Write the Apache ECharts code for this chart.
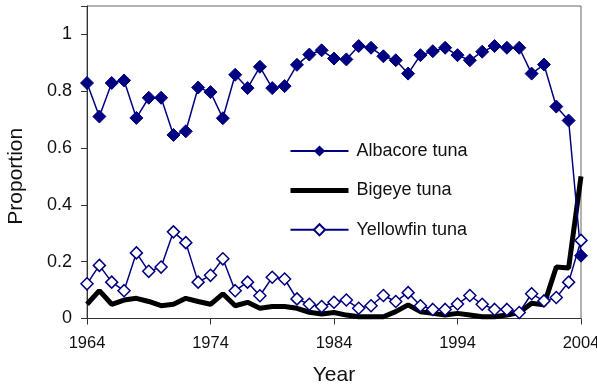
<!DOCTYPE html>
<html><head><meta charset="utf-8">
<script src="https://cdn.jsdelivr.net/npm/echarts@6/dist/echarts.min.js"></script>
<style>html,body{margin:0;padding:0;background:#fff}#c{width:597px;height:388px}</style>
</head><body><div id="c"></div>
<script>
var years = [];
for (var y = 1964; y <= 2004; y++) years.push(y);
var albacore = [0.829,0.711,0.829,0.838,0.706,0.777,0.777,0.646,0.659,0.813,0.797,0.705,0.858,0.811,0.886,0.811,0.818,0.893,0.929,0.944,
  0.915,0.912,0.959,0.953,0.923,0.909,0.862,0.927,0.941,0.953,0.927,0.909,0.939,0.959,0.953,0.953,0.862,0.894,0.746,0.697,0.221];
var bigeye = [0.05,0.098,0.05,0.065,0.071,0.06,0.045,0.05,0.071,0.06,0.05,0.087,0.045,0.057,0.036,0.042,0.042,0.036,0.022,0.016,
  0.021,0.012,0.006,0.006,0.006,0.024,0.048,0.024,0.018,0.012,0.018,0.012,0.006,0.006,0.012,0.021,0.054,0.048,0.181,0.178,0.5];
var yellowfin = [0.122,0.187,0.128,0.098,0.231,0.166,0.181,0.305,0.267,0.128,0.152,0.21,0.098,0.128,0.08,0.145,0.139,0.069,0.05,0.042,
  0.057,0.065,0.036,0.045,0.081,0.06,0.091,0.045,0.032,0.032,0.051,0.081,0.05,0.032,0.032,0.021,0.087,0.062,0.074,0.128,0.275];
var names = ['Albacore tuna','Bigeye tuna','Yellowfin tuna'];
function pairs(arr){ return years.map(function(yr,i){ return [yr, arr[i]]; }); }
var navy = '#000080';
var font = 'Liberation Sans, Arial, sans-serif';
var chart = echarts.init(document.getElementById('c'));
chart.setOption({
  animation: false,
  backgroundColor: '#fff',
  grid: {left: 87, right: 16, top: 6, bottom: 69.5, show: true, borderColor: '#666', borderWidth: 1,
         containLabel: false, outerBoundsMode: 'none'},
  legend: {
    orient: 'vertical', left: 288, top: 142, padding: 0, itemWidth: 58, itemHeight: 14, itemGap: 21.4,
    textStyle: {fontFamily: font, fontSize: 18, lineHeight: 14, color: '#111', padding: [0,0,0,3]},
    data: [
      {name: names[0]},
      {name: names[1], itemStyle: {opacity: 0}, lineStyle: {width: 5, color: '#000'}},
      {name: names[2]}
    ]
  },
  xAxis: {
    type: 'value', min: 1964, max: 2004, interval: 10,
    name: 'Year', nameLocation: 'middle', nameGap: 46,
    nameTextStyle: {fontFamily: font, fontSize: 21, color: '#111'},
    axisLine: {lineStyle: {color: '#333'}},
    axisTick: {show: true, length: 6, lineStyle: {color: '#333'}},
    axisLabel: {fontFamily: font, fontSize: 16.5, color: '#111', margin: 16, formatter: function(v){return String(v);}},
    splitLine: {show: false}
  },
  yAxis: {
    type: 'value', min: 0, max: 1.1, interval: 0.2,
    name: 'Proportion', nameLocation: 'middle', nameGap: 60,
    nameTextStyle: {fontFamily: font, fontSize: 21, color: '#111', padding: [0, 28, 0, 0]},
    axisLine: {show: true, lineStyle: {color: '#333'}},
    axisTick: {show: true, length: 6, lineStyle: {color: '#333'}},
    axisLabel: {fontFamily: font, fontSize: 18, color: '#111', margin: 15,
      formatter: function(v){ return v > 1.05 ? '' : String(Math.round(v*10)/10); }},
    splitLine: {show: false}
  },
  series: [
    {name: names[0], type: 'line', data: pairs(albacore), symbol: 'diamond', symbolSize: 13,
     lineStyle: {color: navy, width: 1.5}, itemStyle: {color: navy, borderColor: navy}, z: 3},
    {name: names[1], type: 'line', data: pairs(bigeye), showSymbol: false, symbol: 'none',
     lineStyle: {color: '#000', width: 5}, itemStyle: {color: '#000'}, z: 2},
    {name: names[2], type: 'line', data: pairs(yellowfin), symbol: 'diamond', symbolSize: 12,
     lineStyle: {color: navy, width: 1.5}, itemStyle: {color: '#fff', borderColor: navy, borderWidth: 1.5}, z: 4}
  ]
});
</script></body></html>
